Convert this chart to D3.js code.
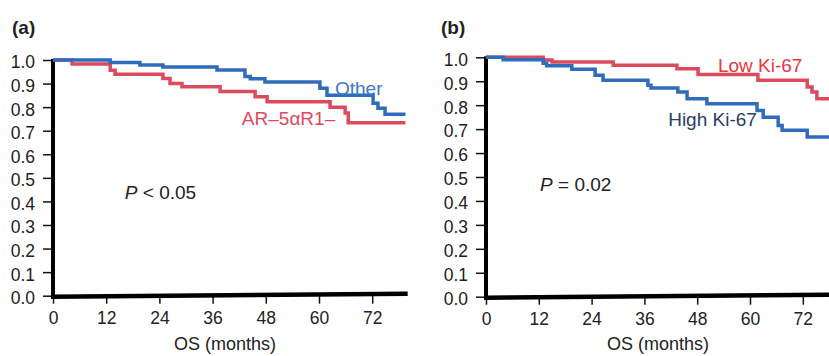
<!DOCTYPE html>
<html>
<head>
<meta charset="utf-8">
<script src="https://cdn.jsdelivr.net/npm/d3@7"></script>
<style>
  body { margin: 0; background: #fff; }
  svg { display: block; font-family: "Liberation Sans", Arial, sans-serif; }
  .tick text { font-size: 17.5px; fill: #222; }
  .tick line { stroke: #111; stroke-width: 1.5; }
</style>
</head>
<body>
<script>
// tick values
var monthTicks = [0, 12, 24, 36, 48, 60, 72];
var survTicks = [0, 0.1, 0.2, 0.3, 0.4, 0.5, 0.6, 0.7, 0.8, 0.9, 1.0];

// panel (a) - Other vs AR-5aR1- (step points: month, survival after the drop)
var otherMonths = [0, 12.9, 19.6, 24.8, 37, 43.3, 44.5, 47.8, 60.2, 61.8, 72.2, 73.3, 74.9, 79.5];
var otherSurv   = [1.0, 0.989, 0.979, 0.970, 0.958, 0.93, 0.92, 0.907, 0.88, 0.85, 0.817, 0.795, 0.77, 0.77];
var arMonths = [0, 4.3, 12.9, 14.0, 24.8, 26.4, 29.1, 37.7, 45.6, 48.3, 62.5, 65.9, 66.6, 79.5];
var arSurv   = [1.0, 0.983, 0.957, 0.94, 0.922, 0.90, 0.887, 0.866, 0.844, 0.823, 0.80, 0.775, 0.734, 0.734];

// panel (b) - Low vs High Ki-67
var lowMonths = [0, 13, 15, 28.9, 43.4, 48.2, 61.8, 73, 74.1, 75.2, 80];
var lowSurv   = [1.0, 0.989, 0.98, 0.967, 0.952, 0.928, 0.904, 0.876, 0.855, 0.827, 0.827];
var highMonths = [0, 3.9, 13, 13.8, 19.5, 24.8, 26.6, 36.8, 37.5, 43.6, 45.7, 50.2, 61.6, 63, 66.4, 67.3, 73, 80];
var highSurv   = [1.0, 0.99, 0.975, 0.965, 0.95, 0.925, 0.904, 0.883, 0.872, 0.855, 0.827, 0.806, 0.778, 0.75, 0.715, 0.695, 0.667, 0.667];

var blue = "#2f6cbb";
var red = "#dc4a5e";

var svg = d3.select("body").append("svg")
    .attr("width", 829)
    .attr("height", 356);

function zip(ms, ss) {
    return ms.map(function(m, i) { return {m: m, s: ss[i]}; });
}

function panel(cfg) {
    var g = svg.append("g");

    var x = d3.scaleLinear().domain([0, 80]).range([cfg.x0, cfg.x0 + 80 * cfg.pxPer12 / 12]);
    var y = d3.scaleLinear().domain([0, 1]).range([cfg.yBottom, cfg.yTop]);

    // y axis
    var yAxis = d3.axisLeft(y).tickValues(survTicks).tickFormat(d3.format(".1f"))
        .tickSize(10).tickPadding(8);
    var ya = g.append("g").attr("transform", "translate(" + cfg.x0 + ",0)").call(yAxis);
    ya.select(".domain").remove();
    ya.selectAll(".tick text").attr("dy", "0.45em");

    // x axis
    var xAxis = d3.axisBottom(x).tickValues(monthTicks).tickSize(8).tickPadding(8);
    var xa = g.append("g").attr("transform", "translate(0," + cfg.yBottom + ")").call(xAxis);
    xa.select(".domain").remove();

    // thick axis lines
    g.append("line")
        .attr("x1", cfg.x0).attr("x2", cfg.x0)
        .attr("y1", y(1) - 1).attr("y2", y(0) + 2)
        .attr("stroke", "#000").attr("stroke-width", 4);
    g.append("line")
        .attr("x1", cfg.x0 - 2).attr("x2", x(80))
        .attr("y1", y(0) + 1).attr("y2", y(0) - 2)
        .attr("stroke", "#000").attr("stroke-width", 4.5);

    var line = d3.line()
        .x(function(d) { return x(d.m); })
        .y(function(d) { return y(d.s); })
        .curve(d3.curveStepAfter);

    cfg.series.forEach(function(s) {
        g.append("path")
            .datum(zip(s.months, s.surv))
            .attr("fill", "none")
            .attr("stroke", s.color)
            .attr("stroke-width", 3.5)
            .attr("d", line);
    });

    // curve labels
    cfg.series.forEach(function(s) {
        g.append("text")
            .attr("x", x(s.labelAt[0]))
            .attr("y", y(s.labelAt[1]))
            .attr("fill", s.labelColor)
            .style("font-size", "19px")
            .text(s.label);
    });

    // p-value
    var pt = g.append("text")
        .attr("x", x(cfg.pAt[0]))
        .attr("y", y(cfg.pAt[1]))
        .style("font-size", "19px")
        .attr("fill", "#222");
    pt.append("tspan").style("font-style", "italic").text("P");
    pt.append("tspan").text(cfg.pText);

    // axis title
    g.append("text")
        .attr("x", cfg.x0 + 172)
        .attr("y", 350)
        .attr("text-anchor", "middle")
        .style("font-size", "18px")
        .attr("fill", "#222")
        .text("OS (months)");

    // panel letter
    g.append("text")
        .attr("x", cfg.letterX)
        .attr("y", 34)
        .style("font-size", "19px")
        .style("font-weight", "bold")
        .attr("fill", "#222")
        .text(cfg.letter);
}

panel({
    x0: 53, pxPer12: 53.2, yTop: 60, yBottom: 295.7,
    letter: "(a)", letterX: 12,
    pAt: [16.2, 0.41], pText: " < 0.05",
    series: [
        {months: arMonths, surv: arSurv, color: red, label: "AR\u20135\u03b1R1\u2013", labelColor: "#e0485c", labelAt: [42.6, 0.724]},
        {months: otherMonths, surv: otherSurv, color: blue, label: "Other", labelColor: "#3b78c6", labelAt: [63.6, 0.851]}
    ]
});

panel({
    x0: 486, pxPer12: 52.8, yTop: 57.3, yBottom: 296.7,
    letter: "(b)", letterX: 441,
    pAt: [12.3, 0.44], pText: " = 0.02",
    series: [
        {months: lowMonths, surv: lowSurv, color: red, label: "Low Ki-67", labelColor: "#e8363f", labelAt: [52.7, 0.937]},
        {months: highMonths, surv: highSurv, color: blue, label: "High Ki-67", labelColor: "#2a3e5e", labelAt: [41.4, 0.712]}
    ]
});
</script>
</body>
</html>
